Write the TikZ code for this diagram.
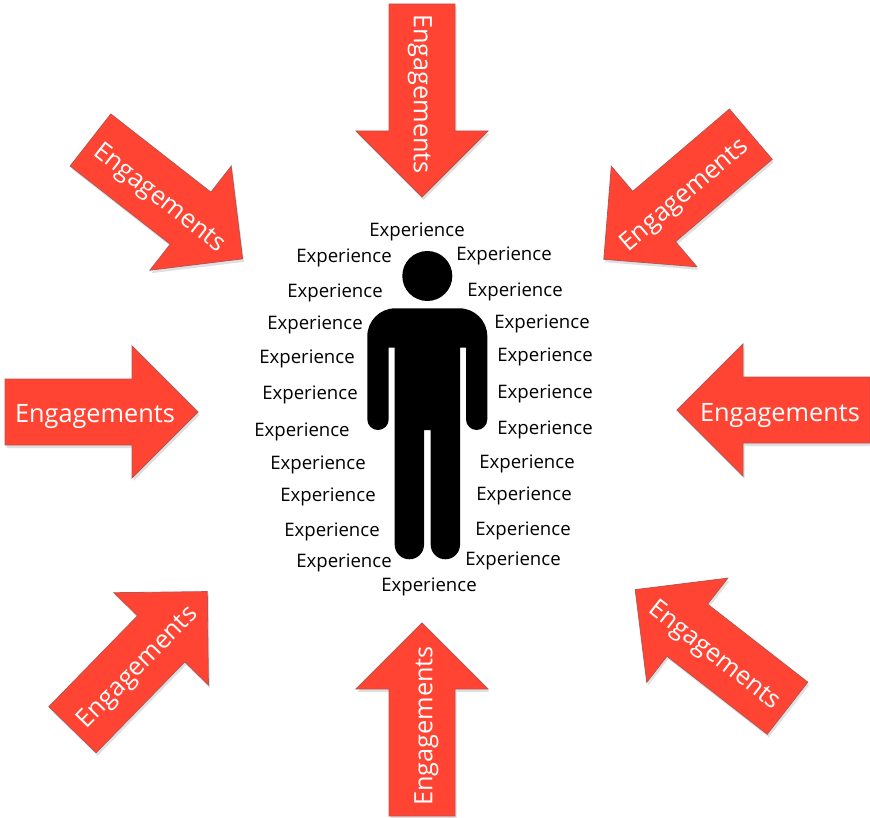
\documentclass[tikz,border=0pt]{standalone}
\usepackage{fontspec}
\setmainfont{Open Sans}
\usetikzlibrary{shadows}
\definecolor{engred}{HTML}{FF4433}
\definecolor{engline}{HTML}{B85450}
\tikzset{
  engarrow/.style={fill=engred,draw=engline,line width=0.8pt,drop shadow={shadow xshift=1.5pt,shadow yshift=-3pt,opacity=0.25}},
  englabel/.style={text=white,font=\fontsize{25.3}{28}\selectfont,inner sep=0pt,text height=26pt,text depth=5.5pt},
  explabel/.style={font=\fontsize{18.6}{20}\selectfont,inner sep=0pt}
}
\begin{document}
\begin{tikzpicture}[x=1pt,y=-1pt]
    \useasboundingbox (0,0) rectangle (870,818);
    % arrows: name / tail x / tail y / direction / text angle
    \foreach \name/\tx/\ty/\dir/\txt/\off in {
        engtop/422/4/-90/-90/-2,
        engupright/750.8/134.2/220.4/40.4/0,
        engright/870/410/180/0/-1,
        englowright/787.5/708.2/142.1/-38/0,
        engbottom/422/816/90/90/0,
        englowleft/72.5/729.7/45.7/45.7/0,
        engleft/5/412/0/0/0,
        engupleft/90.5/140/-38/-38/0}
    {
        \begin{scope}[shift={(\tx,\ty)},rotate=\dir]
            \draw[engarrow] (0,33) -- (127,33) -- (127,66) -- (193,0) -- (127,-66) -- (127,-33) -- (0,-33) -- cycle;
            \node[englabel,rotate=\txt] (\name) at (90,\off) {Engagements};
        \end{scope}
    }
    % person
    \fill (427.3,276) circle [radius=25pt];
    \fill (367.3,380) [rounded corners=28pt] -- (367.3,308.3) -- (487.3,308.3) [sharp corners] -- (487.3,380)
        [rounded corners=10.6pt] -- (487.3,430) -- (466,430) [sharp corners] -- (466,347.7) -- (460,347.7)
        [rounded corners=14.6pt] -- (460,559.3) -- (430.7,559.3) [sharp corners] -- (430.7,430) -- (424,430)
        [rounded corners=14.6pt] -- (424,559.3) -- (394.7,559.3) [sharp corners] -- (394.7,347.7) -- (388.7,347.7)
        [rounded corners=10.6pt] -- (388.7,430) -- (367.3,430) [sharp corners] -- cycle;
    % labels round the person
    \foreach \x/\y [count=\i] in {
        417/232, 344/258, 504/256, 335/293, 515/292, 315/325, 542/324, 307/359,
        545/357, 310/395, 545/394, 302/432, 545/430, 318/465, 527/464, 328/497,
        524/496, 332/532, 523/531, 344/563, 513/561, 429/587}
    {
        \node[explabel] (exp\i) at (\x,\y) {Experience};
    }
\end{tikzpicture}
\end{document}
